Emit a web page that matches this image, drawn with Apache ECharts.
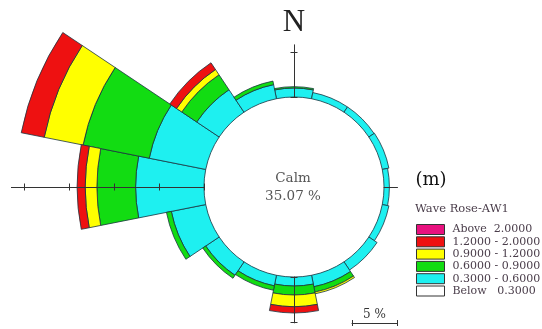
<!DOCTYPE html>
<html>
<head>
<meta charset="utf-8">
<script src="https://cdn.jsdelivr.net/npm/echarts@6/dist/echarts.min.js"></script>
<style>
  html, body { margin: 0; padding: 0; background: #ffffff; }
  #chart { width: 542px; height: 329px; }
</style>
</head>
<body>
<div id="chart"></div>
<script>
// Wave rose for station AW1: occurrence (%) per direction sector and wave-height class.
const directions = ['N', 'NNE', 'NE', 'ENE', 'E', 'ESE', 'SE', 'SSE',
                    'S', 'SSW', 'SW', 'WSW', 'W', 'WNW', 'NW', 'NNW'];

// Height-class labels (m), top of the legend first
const classAbove  = 'Above  2.0000';
const class12_20  = '1.2000 - 2.0000';
const class09_12  = '0.9000 - 1.2000';
const class06_09  = '0.6000 - 0.9000';
const class03_06  = '0.3000 - 0.6000';
const classBelow  = 'Below   0.3000';

// Percent of time in each class, per direction (same order as `directions`)
const pct03_06 = [1.0, 0.7, 0.7, 0.75, 0.6, 0.75, 1.1, 1.3, 1.0, 1.2, 1.8, 3.9, 7.6, 6.4, 3.0, 1.6];
const pct06_09 = [0.15, 0, 0, 0, 0, 0, 0, 0.6, 1.0, 0.5, 0.4, 0.55, 4.3, 7.5, 2.0, 0.4];
const pct09_12 = [0, 0, 0, 0, 0, 0, 0, 0.2, 1.3, 0, 0, 0, 1.3, 4.4, 0.7, 0];
const pct12_20 = [0, 0, 0, 0, 0, 0, 0, 0, 0.7, 0, 0, 0, 0.9, 2.6, 0.9, 0];
const pctAbove = [0, 0, 0, 0, 0, 0, 0, 0, 0, 0, 0, 0, 0, 0, 0, 0];

const calmPercent = '35.07';

// Compass arm lengths (% beyond the calm circle) and the scale-bar length
const armLengths = { N: 5.8, E: 1.5, S: 5.1, W: 21.4 };
const scaleBarPct = 5;

// ---------------------------------------------------------------------------
const SERIF = '"DejaVu Serif", "Liberation Serif", serif';
const CENTER = [294, 187];
const CALM_R = 90;       // radius of the calm circle, px
const PX_PER_PCT = 9;    // radial scale
const RMAX = 25;
const LINE = '#333';
const EDGE = '#1b3340';

const polar = [], angleAxis = [], radiusAxis = [];

// main rose
polar.push({ center: CENTER, radius: [CALM_R, CALM_R + RMAX * PX_PER_PCT] });
angleAxis.push({
  polarIndex: 0, type: 'category', data: directions, boundaryGap: true,
  startAngle: 90 + 11.25, clockwise: true,
  axisLine: { show: false }, axisTick: { show: false },
  axisLabel: { show: false }, splitLine: { show: false }
});
radiusAxis.push({ polarIndex: 0, type: 'value', min: 0, max: RMAX, show: false });

function addAxisPolar(center, r0, len, angle, opts) {
  const i = polar.length;
  polar.push({ center: center, radius: [r0, r0 + len * PX_PER_PCT] });
  angleAxis.push({ polarIndex: i, type: 'value', startAngle: angle, show: false });
  radiusAxis.push(Object.assign({
    polarIndex: i, type: 'value', min: 0, max: len, interval: 5, z: 10,
    axisLine: { show: false, lineStyle: { color: LINE, width: 1 } },
    axisTick: { show: false },
    axisLabel: { show: false },
    splitLine: { show: false }
  }, opts));
}

// cross-shaped ticks: one set on each side of the arm
function crossTicks(center, r0, len, angle, tickLen) {
  [tickLen, -tickLen].forEach(function (l) {
    addAxisPolar(center, r0, len, angle, {
      axisTick: { show: true, length: l, lineStyle: { color: LINE, width: 1 } }
    });
  });
}

const armAngles = { N: 90, E: 0, S: 270, W: 180 };
Object.keys(armLengths).forEach(function (k) {
  const L = armLengths[k];
  addAxisPolar(CENTER, CALM_R, L, armAngles[k], {
    axisLine: { show: true, lineStyle: { color: LINE, width: 1 } }
  });
  const M = Math.floor(L / 5) * 5;
  if (M >= 5) crossTicks(CENTER, CALM_R, M, armAngles[k], 3.5);
});

// scale bar
addAxisPolar([352, 323], 0, scaleBarPct, 0, {
  axisLine: { show: true, lineStyle: { color: LINE, width: 1 } },
  name: '5 %', nameLocation: 'middle', nameGap: -14,
  nameTextStyle: { fontFamily: SERIF, fontSize: 12, color: '#333' }
});
crossTicks([352, 323], 0, scaleBarPct, 0, 3);

function bars(name, values, color) {
  return {
    type: 'bar', coordinateSystem: 'polar', polarIndex: 0, stack: 'wave',
    name: name,
    data: values.map(function (v) { return v > 0 ? v : null; }),
    barCategoryGap: '0%',
    itemStyle: { color: color, borderColor: EDGE, borderWidth: 0.8 },
    emphasis: { disabled: true },
    z: 2
  };
}

const series = [
  bars(class03_06, pct03_06, '#1ef0f0'),
  bars(class06_09, pct06_09, '#12dc12'),
  bars(class09_12, pct09_12, '#ffff00'),
  bars(class12_20, pct12_20, '#ee1111'),
  bars(classAbove, pctAbove, '#e8127f'),
  bars(classBelow, directions.map(function () { return 0; }), '#ffffff')
];

const chart = echarts.init(document.getElementById('chart'));
chart.setOption({
  animation: false,
  backgroundColor: '#ffffff',
  polar: polar,
  angleAxis: angleAxis,
  radiusAxis: radiusAxis,
  series: series,
  legend: {
    data: [classAbove, class12_20, class09_12, class06_09, class03_06, classBelow],
    orient: 'vertical', left: 416, top: 224, padding: 0,
    itemWidth: 28, itemHeight: 10, itemGap: 1.3, icon: 'rect',
    selectedMode: false,
    itemStyle: { borderColor: '#333', borderWidth: 1 },
    textStyle: { fontFamily: SERIF, fontSize: 11, lineHeight: 10, color: '#4a3d4a',
                 padding: [0, 0, 0, 3] }
  },
  graphic: { elements: [
    { type: 'text', x: 294, y: 23, style: { text: 'N', font: '31px "Liberation Serif", serif',
      fill: '#222', textAlign: 'center', textVerticalAlign: 'middle' } },
    { type: 'text', x: 293, y: 178, style: { text: 'Calm', font: '13.5px ' + SERIF,
      fill: '#555', textAlign: 'center', textVerticalAlign: 'middle' } },
    { type: 'text', x: 293, y: 196, style: { text: calmPercent + ' %', font: '13.5px ' + SERIF,
      fill: '#555', textAlign: 'center', textVerticalAlign: 'middle' } },
    { type: 'text', x: 431, y: 180, style: { text: '(m)', font: '18px ' + SERIF,
      fill: '#111', textAlign: 'center', textVerticalAlign: 'middle' } },
    { type: 'text', x: 415, y: 209, style: { text: 'Wave Rose-AW1', font: '11.5px ' + SERIF,
      fill: '#4a3d4a', textAlign: 'left', textVerticalAlign: 'middle' } }
  ] }
});
</script>
</body>
</html>
